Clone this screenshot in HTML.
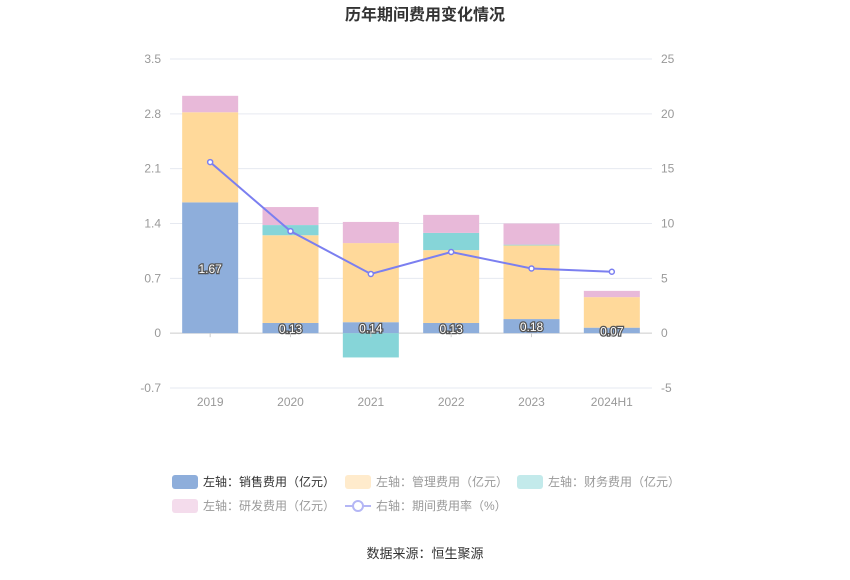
<!DOCTYPE html>
<html><head><meta charset="utf-8"><style>
body{margin:0;background:#fff;font-family:"Liberation Sans","Noto Sans CJK SC",sans-serif;}
svg text{font-family:"Liberation Sans","Noto Sans CJK SC",sans-serif;}
</style></head><body>
<svg id="c" width="850" height="575">
<text x="425" y="20" text-anchor="middle" font-size="16" font-weight="bold" fill="#333">历年期间费用变化情况</text>
<g id="grid"></g><g id="bars"></g><g id="line"></g><g id="axes"></g>
<g font-size="12">
 <g><rect x="172" y="475" width="26" height="14" rx="3" fill="#8eaedb"/><text x="203" y="486" fill="#333">左轴：销售费用（亿元）</text></g>
 <g><rect x="345" y="475" width="26" height="14" rx="3" fill="#ffebcc"/><text x="376" y="486" fill="#999">左轴：管理费用（亿元）</text></g>
 <g><rect x="517" y="475" width="26" height="14" rx="3" fill="#c3eaeb"/><text x="548" y="486" fill="#999">左轴：财务费用（亿元）</text></g>
 <g><rect x="172" y="499" width="26" height="14" rx="3" fill="#f4dcec"/><text x="203" y="510" fill="#999">左轴：研发费用（亿元）</text></g>
 <g><line x1="345" y1="506" x2="371" y2="506" stroke="#b4b6f5" stroke-width="2"/><circle cx="358" cy="506" r="5" fill="#fff" stroke="#b4b6f5" stroke-width="2"/><text x="376" y="510" fill="#999">右轴：期间费用率（%）</text></g>
</g>
<text x="425" y="558" text-anchor="middle" font-size="13" fill="#333">数据来源：恒生聚源</text>
</svg>
<script>
const categories=["2019","2020","2021","2022","2023","2024H1"];
const sales=[1.67,0.13,0.14,0.13,0.18,0.07];
const mgmt=[1.15,1.12,1.01,0.93,0.94,0.39];
const finance=[0,0.13,-0.31,0.22,0.01,0];
const rd=[0.21,0.23,0.27,0.23,0.27,0.08];
const rate=[15.6,9.3,5.4,7.4,5.9,5.6];
const leftTicks=[-0.7,0,0.7,1.4,2.1,2.8,3.5];
const rightTicks=[-5,0,5,10,15,20,25];
const NS="http://www.w3.org/2000/svg";
const X0=170,X1=652,T=59,B=388;
const yL=v=>B-(v+0.7)/4.2*(B-T);
const yR=v=>B-(v+5)/30*(B-T);
const bw=(X1-X0)/categories.length;
const xc=i=>X0+bw*(i+0.5);
function mk(tag,attrs,parent,txt){const e=document.createElementNS(NS,tag);for(const k in attrs)e.setAttribute(k,attrs[k]);if(txt!==undefined)e.textContent=txt;document.getElementById(parent).appendChild(e);return e;}
leftTicks.forEach((t,i)=>{
 const g=mk('line',{x1:X0,x2:X1,y1:yL(t),y2:yL(t),stroke:t===0?'#ccc':'#e6e9f0'},'grid');
 
 
 const a=mk('text',{x:161,y:yL(t)+4,'text-anchor':'end','font-size':12,fill:'#999'},'axes',String(t));
 
 
 const r=mk('text',{x:661,y:yR(rightTicks[i])+4,'font-size':12,fill:'#999'},'axes',String(rightTicks[i]));
 
 
});
const W=56;
categories.forEach((c,i)=>{
 const x=xc(i)-W/2;
 let pos=0;
 const seg=(v,col,name)=>{
  if(v<0){const r=mk('rect',{x:x,y:yL(0),width:W,height:yL(v)-yL(0),fill:col},'bars');return;}
  if(v===0)return;
  const r=mk('rect',{x:x,y:yL(pos+v),width:W,height:yL(pos)-yL(pos+v),fill:col},'bars');
  
  
  pos+=v;
 };
 seg(sales[i],'#8eaedb','bar-sales-'+c);
 seg(mgmt[i],'#ffd99a','bar-management-'+c);
 seg(finance[i],'#86d5d8','bar-finance-'+c);
 seg(rd[i],'#e8b9d9','bar-rd-'+c);
 const l=mk('text',{x:xc(i),y:(yL(0)+yL(sales[i]))/2+5,'text-anchor':'middle','font-size':12,fill:'#fff',stroke:'#555','stroke-width':2.5,'paint-order':'stroke'},'bars',sales[i].toFixed(2));
 
 
 const t=mk('text',{x:xc(i),y:406,'text-anchor':'middle','font-size':12,fill:'#999'},'axes',c);
 
 
 const tk=mk('line',{x1:xc(i),x2:xc(i),y1:yL(0),y2:yL(0)+4,stroke:'#ccc'},'axes');
 
 
});
const pl=mk('polyline',{points:rate.map((v,i)=>xc(i)+','+yR(v)).join(' '),fill:'none',stroke:'#7b7ff0','stroke-width':2},'line');


rate.forEach((v,i)=>{
 const p=mk('circle',{cx:xc(i),cy:yR(v),r:2.5,fill:'#fff',stroke:'#7b7ff0','stroke-width':1.5},'line');
 
 
});
</script>
</body></html>
